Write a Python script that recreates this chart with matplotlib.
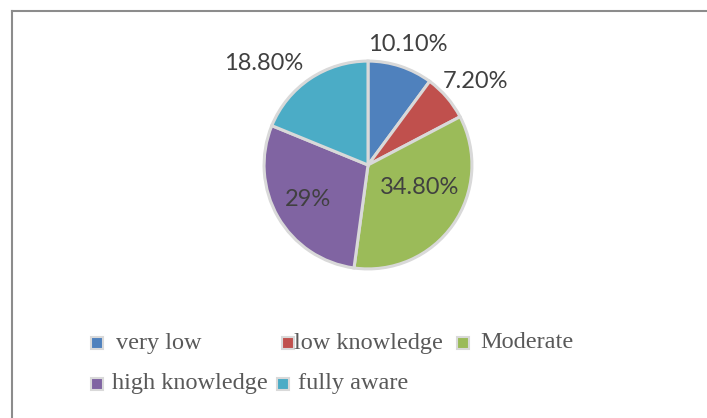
import matplotlib.pyplot as plt
import numpy as np
from matplotlib.patches import Rectangle
from matplotlib.lines import Line2D

# Data
categories = ['very low', 'low knowledge', 'Moderate', 'high knowledge', 'fully aware']
values = [10.1, 7.2, 34.8, 29.0, 18.8]
value_labels = ['10.10%', '7.20%', '34.80%', '29%', '18.80%']
colors = ['#4F81BD', '#C0504D', '#9BBB59', '#8064A2', '#4BACC6']

W, H = 707, 418
fig = plt.figure(figsize=(W / 100, H / 100), dpi=100)
fig.patch.set_facecolor('white')

# pie axes: center (368,165), radius ~106 px
R = 106
cx, cy = 368, 165
ax = fig.add_axes([(cx - R) / W, 1 - (cy + R) / H, 2 * R / W, 2 * R / H])
wedges, _ = ax.pie(values, colors=colors, startangle=90, counterclock=False,
                   radius=1.0,
                   wedgeprops={'edgecolor': '#D9D9D9', 'linewidth': 2.2})
ax.set_xlim(-1.02, 1.02)
ax.set_ylim(-1.02, 1.02)
ax.set_aspect('equal')

# label placement (Excel "best fit" look): radial factor + angle nudge
label_r = [1.22, 1.31, 0.54, 0.67, 1.40]
label_dang = [0, -3, 11, 0, 12]
for w, lab, r, da in zip(wedges, value_labels, label_r, label_dang):
    ang = np.deg2rad((w.theta1 + w.theta2) / 2 + da)
    ax.text(r * np.cos(ang), r * np.sin(ang), lab, ha='center', va='center',
            fontsize=17, family='Lato', color='#404040', clip_on=False)

# manual legend laid out like the Excel one
leg_rows = [(343, [(97, 116), (288, 294), (463, 480)]),
            (384, [(97, 112), (283, 298)])]
k = 0
for y, items in leg_rows:
    for mx, tx in items:
        fig.patches.append(Rectangle(((mx - 6) / W, 1 - (y + 6) / H), 12 / W, 12 / H,
                                     transform=fig.transFigure, facecolor=colors[k],
                                     edgecolor='#D9D9D9', linewidth=1.5))
        fig.text(tx / W, 1 - y / H, categories[k], ha='left', va='center',
                 fontsize=17.5, family='Liberation Serif', color='#595959')
        k += 1

# chart-area border (left and top visible)
fig.add_artist(Line2D([12 / W, 12 / W], [0, 1 - 11 / H], transform=fig.transFigure,
                      color='#8C8C8C', linewidth=1.5))
fig.add_artist(Line2D([12 / W, 1], [1 - 11 / H, 1 - 11 / H], transform=fig.transFigure,
                      color='#8C8C8C', linewidth=1.5))

fig.savefig('out.png', dpi=100, facecolor='white')
